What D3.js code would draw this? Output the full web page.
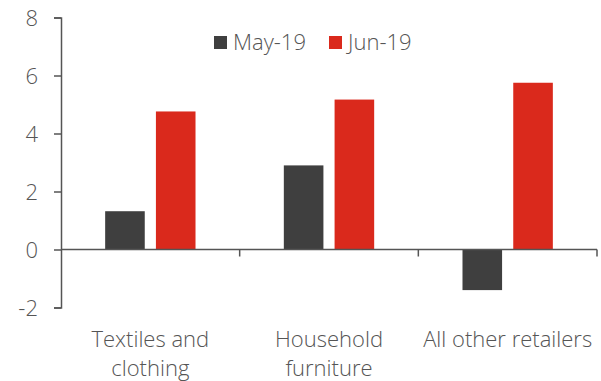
<!DOCTYPE html>
<html>
<head>
<meta charset="utf-8">
<script src="https://cdn.jsdelivr.net/npm/d3@7"></script>
<style>
  html, body { margin: 0; padding: 0; background: #fff; }
  svg { display: block; }
  text { font-family: "Open Sans", Lato, sans-serif; font-weight: 300; fill: #555; }
</style>
</head>
<body>
<svg id="chart" width="601" height="381"></svg>
<script>
// Retail sales growth by category, %
const categories = ["Textiles and clothing", "Household furniture", "All other retailers"];
const categoryLines = [["Textiles and", "clothing"], ["Household", "furniture"], ["All other retailers"]];
const seriesNames = ["May-19", "Jun-19"];
const may19 = [1.32, 2.9, -1.4];
const jun19 = [4.76, 5.17, 5.75];
const yTicks = [-2, 0, 2, 4, 6, 8];
const colors = ["#3f3f3f", "#da291c"];

const svg = d3.select("#chart");
const margin = { left: 61, right: 4, top: 17.5, bottom: 73.5 };
const W = 601, H = 381;
const fontSize = "22px";

const y = d3.scaleLinear().domain([-2, 8]).range([H - margin.bottom, margin.top]);
const x0 = d3.scaleBand().domain(categories).range([margin.left, W - margin.right]).paddingInner(0).paddingOuter(0);
const x1 = d3.scaleBand().domain(seriesNames).range([0, x0.bandwidth()]).paddingInner(0.22).paddingOuter(0.87);

const values = [may19, jun19];

// bars
seriesNames.forEach((s, si) => {
  svg.append("g").selectAll("rect")
    .data(categories.map((c, i) => ({ c, v: values[si][i] })))
    .join("rect")
    .attr("x", d => x0(d.c) + x1(s))
    .attr("width", x1.bandwidth())
    .attr("y", d => y(Math.max(0, d.v)))
    .attr("height", d => Math.abs(y(d.v) - y(0)))
    .attr("fill", colors[si]);
});

// y axis
const yAxis = svg.append("g")
  .attr("transform", `translate(${margin.left},0)`)
  .call(d3.axisLeft(y).tickValues(yTicks).tickSize(7).tickSizeOuter(7).tickPadding(16).tickFormat(d => String(d)));
yAxis.selectAll("text").style("font-size", fontSize).attr("dy", "0.35em");

// x axis along zero line, ticks at category boundaries
const xg = svg.append("g").attr("transform", `translate(0,${y(0)})`);
xg.append("line")
  .attr("x1", margin.left).attr("x2", W - margin.right)
  .attr("y1", 0).attr("y2", 0);
const bounds = categories.map(c => x0(c) + x0.bandwidth());
xg.selectAll("line.tick").data(bounds).join("line")
  .attr("class", "tick")
  .attr("x1", d => d).attr("x2", d => d)
  .attr("y1", 0).attr("y2", 7);

svg.selectAll(".domain, .tick line, g line").attr("stroke", "#555").attr("stroke-width", 1.5);

// category labels
categories.forEach((c, i) => {
  const t = svg.append("text")
    .attr("x", x0(c) + x0.bandwidth() / 2)
    .attr("y", 347)
    .attr("text-anchor", "middle")
    .style("font-size", fontSize);
  categoryLines[i].forEach((ln, j) => {
    t.append("tspan").attr("x", x0(c) + x0.bandwidth() / 2).attr("dy", j === 0 ? 0 : 28.5).text(ln);
  });
});

// legend
const legendX = [214, 329];
seriesNames.forEach((s, si) => {
  const g = svg.append("g").attr("transform", `translate(${legendX[si]},36)`);
  g.append("rect").attr("width", 13).attr("height", 13).attr("fill", colors[si]);
  g.append("text").attr("x", 19).attr("y", 13.5).style("font-size", fontSize).text(s);
});
</script>
</body>
</html>
